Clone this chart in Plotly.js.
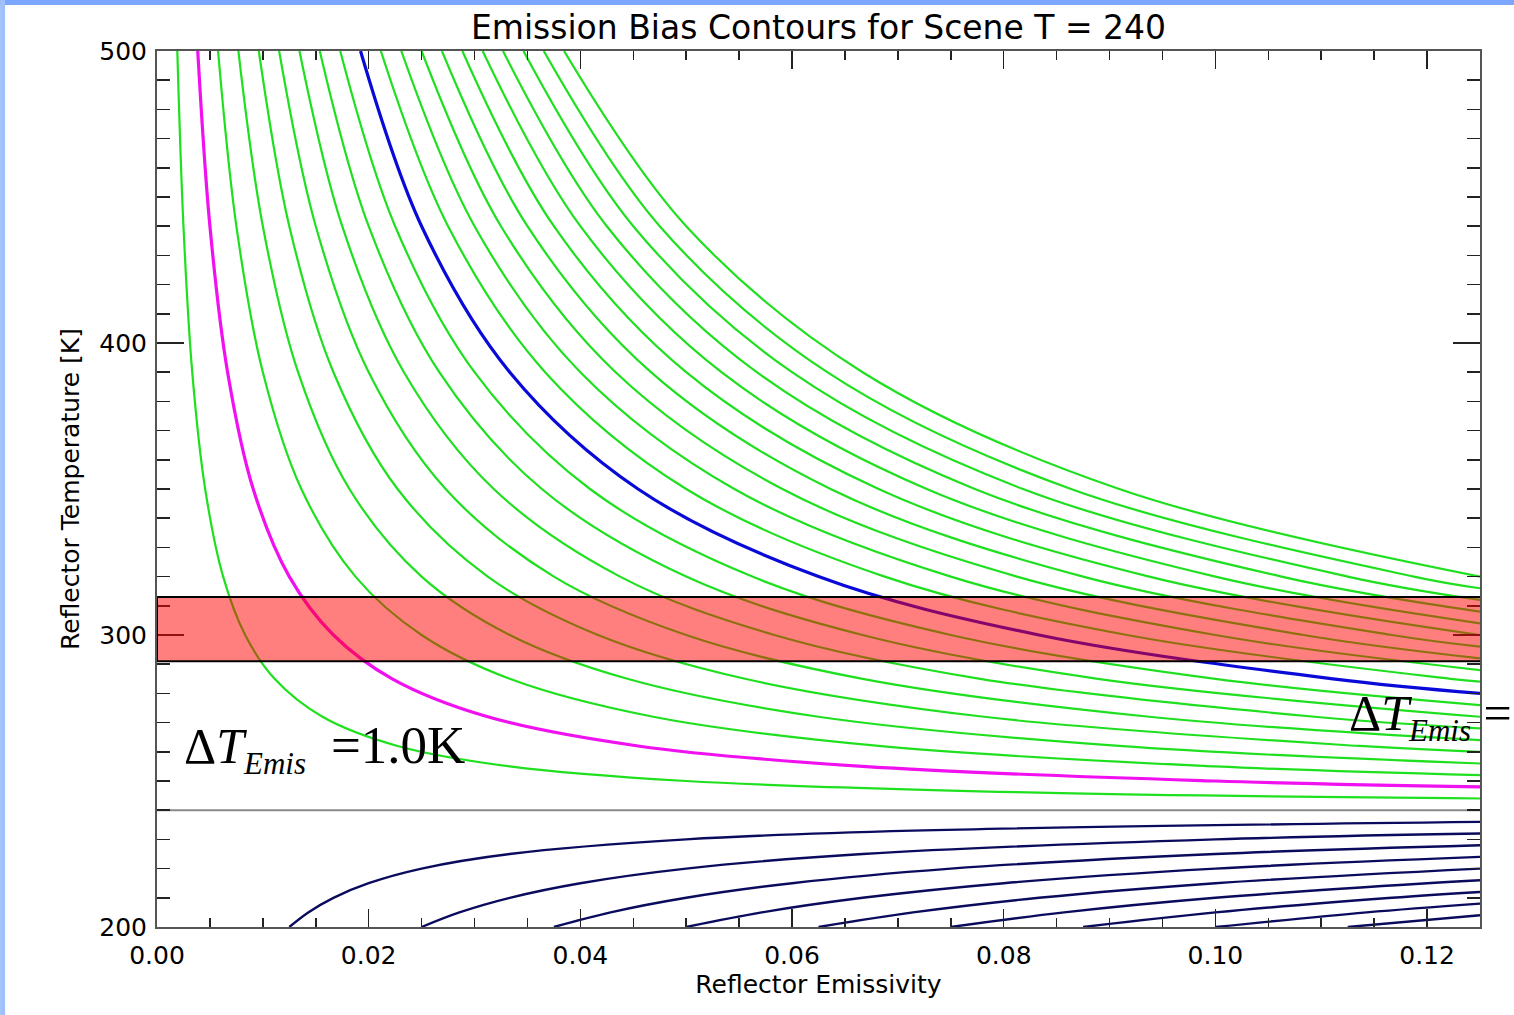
<!DOCTYPE html>
<html>
<head>
<meta charset="utf-8">
<script src="https://cdn.plot.ly/plotly-3.0.1.min.js"></script>
<style>html,body{margin:0;padding:0;background:#fff;}#chart{width:1514px;height:1015px;}</style>
</head>
<body>
<div id="chart"></div>
<script>
// ---- data ----
const sceneT = 240;
const epsRange = [0, 0.125];
const tempRange = [200, 500];
const bandT = [291, 313];

// positive bias contour levels (K)
const levelsPos = [0.5,1.0,1.5,2.0,2.5,3.0,3.5,4.0,4.5,5.0,5.5,6.0,6.5,7.0,7.5,8.0,8.5,9.0,9.5,10.0];
const epsPos = [
  [0.00192,0.0025,0.00333,0.00455,0.00625,0.00833,0.01111,0.01563,0.02273,0.03333,0.05,0.08333,0.125],
  [0.00385,0.005,0.00667,0.00909,0.0125,0.01667,0.02222,0.03125,0.04545,0.06667,0.1,0.125],
  [0.00577,0.0075,0.01,0.01364,0.01875,0.025,0.03333,0.04688,0.06818,0.1,0.125],
  [0.00769,0.01,0.01333,0.01818,0.025,0.03333,0.04444,0.0625,0.09091,0.125],
  [0.00962,0.0125,0.01667,0.02273,0.03125,0.04167,0.05556,0.07813,0.11364,0.125],
  [0.01154,0.015,0.02,0.02727,0.0375,0.05,0.06667,0.09375,0.125],
  [0.01346,0.0175,0.02333,0.03182,0.04375,0.05833,0.07778,0.10938,0.125],
  [0.01538,0.02,0.02667,0.03636,0.05,0.06667,0.08889,0.125],
  [0.01731,0.0225,0.03,0.04091,0.05625,0.075,0.1,0.125],
  [0.01923,0.025,0.03333,0.04545,0.0625,0.08333,0.11111,0.125],
  [0.02115,0.0275,0.03667,0.05,0.06875,0.09167,0.12222,0.125],
  [0.02308,0.03,0.04,0.05455,0.075,0.1,0.125],
  [0.025,0.0325,0.04333,0.05909,0.08125,0.10833,0.125],
  [0.02692,0.035,0.04667,0.06364,0.0875,0.11667,0.125],
  [0.02885,0.0375,0.05,0.06818,0.09375,0.125],
  [0.03077,0.04,0.05333,0.07273,0.1,0.125],
  [0.03269,0.0425,0.05667,0.07727,0.10625,0.125],
  [0.03462,0.045,0.06,0.08182,0.1125,0.125],
  [0.03654,0.0475,0.06333,0.08636,0.11875,0.125],
  [0.03846,0.05,0.06667,0.09091,0.125]
];
const tempPos = [
  [500,440,390,350,320,300,285,272,262,255,250,246,244],
  [500,440,390,350,320,300,285,272,262,255,250,248],
  [500,440,390,350,320,300,285,272,262,255,252],
  [500,440,390,350,320,300,285,272,262,256],
  [500,440,390,350,320,300,285,272,262,260],
  [500,440,390,350,320,300,285,272,264],
  [500,440,390,350,320,300,285,272,268],
  [500,440,390,350,320,300,285,272],
  [500,440,390,350,320,300,285,276],
  [500,440,390,350,320,300,285,280],
  [500,440,390,350,320,300,285,284],
  [500,440,390,350,320,300,288],
  [500,440,390,350,320,300,292],
  [500,440,390,350,320,300,296],
  [500,440,390,350,320,300],
  [500,440,390,350,320,304],
  [500,440,390,350,320,308],
  [500,440,390,350,320,312],
  [500,440,390,350,320,316],
  [500,440,390,350,320]
];

// negative bias contour levels (K)
const levelsNeg = [-0.5,-1.0,-1.5,-2.0,-2.5,-3.0,-3.5,-4.0,-4.5];
const epsNeg = [
  [0.0125,0.01429,0.01667,0.02,0.025,0.03333,0.05,0.07143,0.125],
  [0.025,0.02857,0.03333,0.04,0.05,0.06667,0.1,0.125],
  [0.0375,0.04286,0.05,0.06,0.075,0.1,0.125],
  [0.05,0.05714,0.06667,0.08,0.1,0.125],
  [0.0625,0.07143,0.08333,0.1,0.125],
  [0.075,0.08571,0.1,0.12,0.125],
  [0.0875,0.1,0.11667,0.125],
  [0.1,0.11429,0.125],
  [0.1125,0.125]
];
const tempNeg = [
  [200,205,210,215,220,225,230,233,236],
  [200,205,210,215,220,225,230,232],
  [200,205,210,215,220,225,228],
  [200,205,210,215,220,224],
  [200,205,210,215,220],
  [200,205,210,215,216],
  [200,205,210,212],
  [200,205,208],
  [200,204]
];

const SUB = '<sub><span style="font-size:31px"><i>Emis</i></span></sub>';
const labelLeft = 'Δ<i>T</i>' + SUB + '  <span style="font-size:53px">=1.0K</span>';
const labelRight = 'Δ<i>T</i>' + SUB + ' =';

// ---- styles ----
const GREEN = '#1fe01f', MAGENTA = '#f010f0', BLUE = '#0a0ad8', NAVY = '#0b0b5e', GRAY = '#8a8a8a';

const traces = [];
levelsPos.forEach((lev, i) => {
  let color = GREEN, width = 2.2;
  if (lev === 1.0) { color = MAGENTA; width = 3.2; }
  if (lev === 5.0) { color = BLUE; width = 3.2; }
  traces.push({
    type: 'scatter', mode: 'lines', x: epsPos[i], y: tempPos[i],
    line: {color: color, width: width, shape: 'spline', smoothing: 1},
    hoverinfo: 'skip', showlegend: false
  });
});
levelsNeg.forEach((lev, i) => {
  traces.push({
    type: 'scatter', mode: 'lines', x: epsNeg[i], y: tempNeg[i],
    line: {color: NAVY, width: 2.4, shape: 'spline', smoothing: 1},
    hoverinfo: 'skip', showlegend: false
  });
});
traces.push({
  type: 'scatter', mode: 'lines', x: epsRange, y: [sceneT, sceneT],
  line: {color: GRAY, width: 2}, hoverinfo: 'skip', showlegend: false
});

const axisFont = {family: 'DejaVu Sans', size: 25, color: '#000'};
const layout = {
  width: 1514, height: 1015,
  margin: {l: 157, r: 34, t: 51, b: 88, pad: 0},
  paper_bgcolor: '#fff', plot_bgcolor: '#fff',
  showlegend: false,
  title: {
    text: 'Emission Bias Contours for Scene T = 240',
    font: {family: 'DejaVu Sans', size: 33, color: '#000'},
    x: 0.5, xref: 'paper', y: 0.973, yref: 'container', yanchor: 'middle'
  },
  xaxis: {
    range: epsRange, tick0: 0, dtick: 0.02, tickformat: '.2f',
    ticks: 'inside', ticklen: 18, tickwidth: 1.5, tickcolor: '#222',
    minor: {dtick: 0.005, ticks: 'inside', ticklen: 9, tickwidth: 1.5, tickcolor: '#222'},
    showline: true, linecolor: '#555', linewidth: 2, mirror: 'ticks',
    showgrid: false, zeroline: false,
    tickfont: axisFont, ticklabelstandoff: 5,
    title: {text: 'Reflector Emissivity', font: {family: 'DejaVu Sans', size: 25, color: '#000'}, standoff: 5}
  },
  yaxis: {
    range: tempRange, tick0: 200, dtick: 100,
    ticks: 'inside', ticklen: 27, tickwidth: 1.5, tickcolor: '#222',
    minor: {dtick: 10, ticks: 'inside', ticklen: 13, tickwidth: 1.5, tickcolor: '#222'},
    showline: true, linecolor: '#555', linewidth: 2, mirror: 'ticks',
    showgrid: false, zeroline: false,
    tickfont: axisFont, ticklabelstandoff: 3,
    title: {text: 'Reflector Temperature [K]', font: {family: 'DejaVu Sans', size: 25, color: '#000'}, standoff: 13}
  },
  shapes: [
    {type: 'rect', xref: 'x', yref: 'y', x0: 0, x1: 0.1259, y0: bandT[0], y1: bandT[1],
     fillcolor: 'rgba(255,0,0,0.5)', line: {color: '#000', width: 2}, layer: 'above'},
    {type: 'rect', xref: 'paper', yref: 'paper', x0: -0.1186, x1: 1.0260, y0: 1.0525, y1: 1.06,
     fillcolor: '#7ba6fb', line: {width: 0}, layer: 'above'},
    {type: 'rect', xref: 'paper', yref: 'paper', x0: -0.1186, x1: -0.1148, y0: -0.11, y1: 1.06,
     fillcolor: '#9fc0fa', line: {width: 0}, layer: 'above'}
  ],
  annotations: [
    {x: 0.0024, y: 261, xref: 'x', yref: 'y', xanchor: 'left', yanchor: 'middle',
     text: labelLeft, showarrow: false, font: {family: 'Liberation Serif', size: 50, color: '#000'}},
    {x: 0.1124, y: 272, xref: 'x', yref: 'y', xanchor: 'left', yanchor: 'middle',
     text: labelRight, showarrow: false, font: {family: 'Liberation Serif', size: 50, color: '#000'}}
  ]
};

Plotly.newPlot('chart', traces, layout, {displayModeBar: false, staticPlot: true});
</script>
</body>
</html>
